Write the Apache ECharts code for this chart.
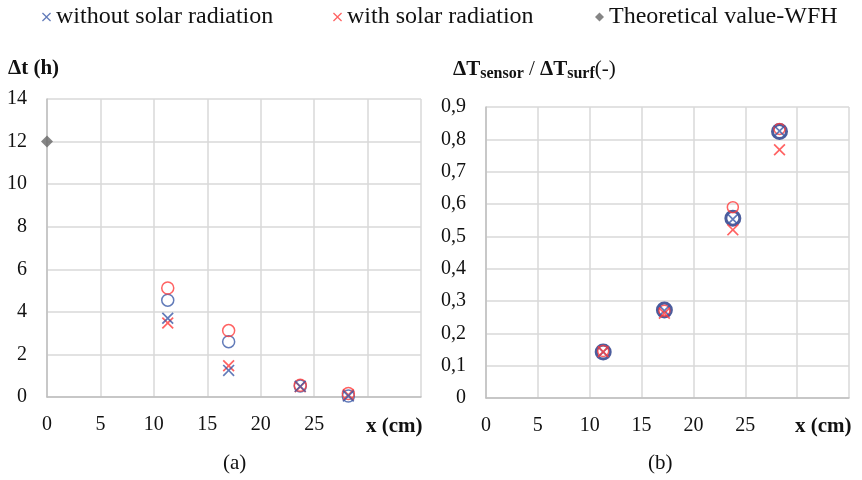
<!DOCTYPE html>
<html>
<head>
<meta charset="utf-8">
<title>solar radiation</title>
<script src="https://cdn.jsdelivr.net/npm/echarts@6/dist/echarts.min.js"></script>
</head>
<body style="margin:0">
<div id="main" style="width:862px;height:480px;"></div>
<script>
// x position of the sensors (cm)
var xMin = 0, xMax = 35, xStep = 5;

// (a) time lag, h
var aWithoutCross = [[11.3, 3.70], [17.0, 1.25], [23.7, 0.50], [28.2, 0.05]];
var aWithCross = [[11.3, 3.48], [17.0, 1.47], [23.7, 0.48], [28.2, 0.10]];
var aWithoutCircle = [[11.3, 4.55], [17.0, 2.60], [23.7, 0.52], [28.2, 0.05]];
var aWithCircle = [[11.3, 5.12], [17.0, 3.12], [23.7, 0.55], [28.2, 0.16]];
var aTheory = [[0, 12]];

// (b) amplitude ratio
var bWithoutCross = [[11.3, 0.142], [17.2, 0.270], [23.8, 0.553], [28.3, 0.826]];
var bWithCross = [[11.3, 0.143], [17.2, 0.262], [23.8, 0.520], [28.3, 0.768]];
var bWithoutCircle = [[11.3, 0.142], [17.2, 0.272], [23.8, 0.556], [28.3, 0.824]];
var bWithCircle = [[11.3, 0.145], [17.2, 0.270], [23.8, 0.590], [28.3, 0.832]];

var BLUE = '#3b5aa8', NAVY = '#1f3585', RED = '#ff3b3b', GREY = '#666666';
var FONT = 'Liberation Serif';
var CROSS = 'path://M0,1L1,0L5,4L9,0L10,1L6,5L10,9L9,10L5,6L1,10L0,9L4,5Z';

var chart = echarts.init(document.getElementById('main'));

function xAxis(i) {
	return {
		type: 'value', gridIndex: i, min: xMin, max: xMax, interval: xStep,
		axisLine: { lineStyle: { color: '#bfbfbf', width: 1.5 } },
		axisTick: { show: false },
		splitLine: { lineStyle: { color: '#d9d9d9', width: 1.5 } },
		axisLabel: {
			margin: 18, color: '#111', fontFamily: FONT, fontSize: 20,
			formatter: function (v) { return v >= 30 ? '' : v; }
		}
	};
}

function yAxis(i, max, step, fmt) {
	return {
		type: 'value', gridIndex: i, min: 0, max: max, interval: step,
		axisLine: { show: true, lineStyle: { color: '#bfbfbf', width: 1.5 } },
		axisTick: { show: false },
		splitLine: { lineStyle: { color: '#d9d9d9', width: 1.5 } },
		axisLabel: { margin: 20, color: '#111', fontFamily: FONT, fontSize: 20, formatter: fmt }
	};
}

function cross(name, data, ax, color) {
	return {
		name: name, type: 'scatter', xAxisIndex: ax, yAxisIndex: ax, data: data,
		symbol: CROSS, symbolSize: 12, z: 4,
		itemStyle: { color: color }
	};
}

function ring(name, data, ax, color, size, width) {
	return {
		name: name, type: 'scatter', xAxisIndex: ax, yAxisIndex: ax, data: data,
		symbol: 'circle', symbolSize: size, z: 3,
		itemStyle: { color: 'rgba(0,0,0,0)', borderColor: color, borderWidth: width }
	};
}

function legendAt(left, name) {
	return {
		left: left, top: 4, padding: 0, itemWidth: 9, itemHeight: 9,
		data: [name],
		textStyle: { fontFamily: FONT, fontSize: 24, color: '#111', lineHeight: 26 }
	};
}

var bold = { fontFamily: FONT, fontWeight: 'bold', fontSize: 21, color: '#111' };
var plain = { fontFamily: FONT, fontWeight: 'normal', fontSize: 21, color: '#111' };

chart.setOption({
	animation: false,
	legend: [
		legendAt(42, 'without solar radiation'),
		legendAt(333, 'with solar radiation'),
		legendAt(595, 'Theoretical value-WFH')
	],
	title: [
		{ text: 'Δt (h)', left: 8, top: 58, padding: 0, textStyle: bold },
		{
			text: '{b|ΔT}{s|sensor}{n| / }{b|ΔT}{s|surf}{n|(-)}', left: 453, top: 57, padding: 0,
			textStyle: {
				rich: {
					b: bold,
					s: { fontFamily: FONT, fontWeight: 'bold', fontSize: 16, color: '#111', padding: [9, 0, 0, 0] },
					n: plain
				}
			}
		},
		{ text: 'x (cm)', left: 366, top: 416, padding: 0, textStyle: bold },
		{ text: 'x (cm)', left: 795, top: 416, padding: 0, textStyle: bold },
		{ text: '(a)', left: 223, top: 453, padding: 0, textStyle: plain },
		{ text: '(b)', left: 648, top: 453, padding: 0, textStyle: plain }
	],
	grid: [
		{ left: 47, top: 99, width: 374, height: 298 },
		{ left: 486, top: 107, width: 363, height: 291 }
	],
	xAxis: [xAxis(0), xAxis(1)],
	yAxis: [
		yAxis(0, 14, 2),
		yAxis(1, 0.9, 0.1, function (v) { return v === 0 ? '0' : v.toFixed(1).replace('.', ','); })
	],
	series: [
		ring('without solar radiation (circle)', aWithoutCircle, 0, BLUE, 12, 1.5),
		ring('with solar radiation (circle)', aWithCircle, 0, RED, 12, 1.5),
		cross('with solar radiation', aWithCross, 0, RED),
		cross('without solar radiation', aWithoutCross, 0, BLUE),
		{
			name: 'Theoretical value-WFH', type: 'scatter', xAxisIndex: 0, yAxisIndex: 0,
			data: aTheory, symbol: 'diamond', symbolSize: 12, z: 5,
			itemStyle: { color: GREY }
		},
		ring('without solar radiation (circle)', bWithoutCircle, 1, NAVY, 14, 3),
		ring('with solar radiation (circle)', bWithCircle, 1, RED, 11, 1.5),
		cross('without solar radiation', bWithoutCross, 1, BLUE),
		cross('with solar radiation', bWithCross, 1, RED)
	]
});
</script>
</body>
</html>
